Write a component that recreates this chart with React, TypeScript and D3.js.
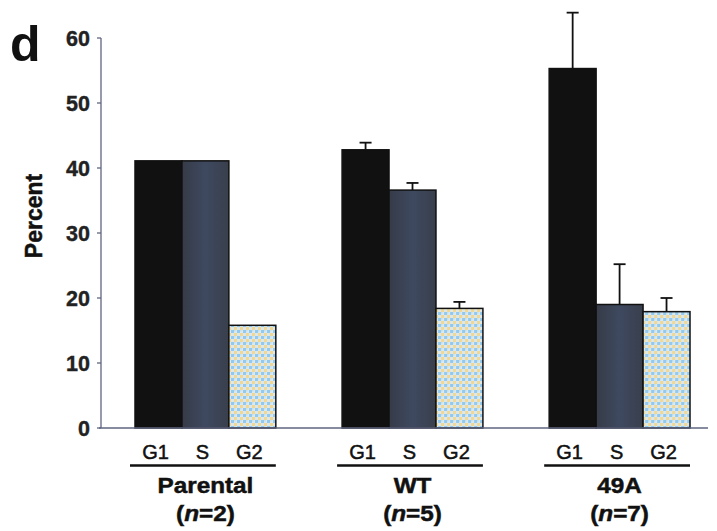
import React from "react";
import * as d3 from "d3";

const groups = ["Parental", "WT", "49A"];
const groupN = ["2", "5", "7"];
const phases = ["G1", "S", "G2"];
const g1Values = [41.1, 42.8, 55.3];
const sValues = [41.1, 36.6, 19.0];
const g2Values = [15.8, 18.4, 17.9];
const g1Err = [0, 1.1, 8.6];
const sErr = [0, 1.1, 6.2];
const g2Err = [0, 1.0, 2.1];
const yTicks = [0, 10, 20, 30, 40, 50, 60];

const W = 717;
const H = 531;

export default function App() {
  const y = d3.scaleLinear().domain([0, 60]).range([428, 38]);
  const x = d3.scaleBand<string>().domain(groups).range([135, 690]).paddingInner(0.32).paddingOuter(0);
  const xi = d3.scaleBand<string>().domain(phases).range([0, x.bandwidth()]).padding(0);
  const values = [g1Values, sValues, g2Values];
  const errs = [g1Err, sErr, g2Err];
  const fills = ["#111111", "url(#sstreak)", "url(#checker)"];
  const axisColor = "#5f6580";
  const font = "Liberation Sans, Arial, Helvetica, sans-serif";

  return (
    <svg width={W} height={H} style={{ position: "absolute", left: 0, top: 0, background: "#fff" }} fontFamily={font}>
      <defs>
        <pattern id="checker" width="6" height="6" patternUnits="userSpaceOnUse">
          <rect width="6" height="6" fill="#dde8ec" />
          <rect x="0" y="0" width="3" height="3" fill="#92c9ee" />
          <rect x="3" y="3" width="3" height="3" fill="#f0d892" />
          <rect x="3" y="0" width="1.5" height="1.5" fill="#c4dfee" />
        </pattern>
        <linearGradient id="sstreak" x1="0" x2="1" y1="0" y2="0">
          <stop offset="0" stopColor="#363b47" />
          <stop offset="0.5" stopColor="#3e4960" />
          <stop offset="1" stopColor="#393f4c" />
        </linearGradient>
      </defs>

      <text x={10} y={61} fontSize={50} fontWeight="bold" fill="#111">d</text>

      {/* y axis */}
      <line x1={101} x2={101} y1={y(60)} y2={y(0)} stroke={axisColor} strokeWidth={1.3} />
      {yTicks.map((t) => (
        <g key={t}>
          <line x1={97} x2={101} y1={y(t)} y2={y(t)} stroke={axisColor} strokeWidth={1.3} />
          <text x={90} y={y(t) + 7.5} textAnchor="end" fontSize={21.5} fontWeight="bold" fill="#222"
            stroke="#222" strokeWidth={0.4}>{t}</text>
        </g>
      ))}
      <text transform={`translate(42,216) rotate(-90)`} textAnchor="middle" fontSize={23} fontWeight="bold"
        fill="#111" stroke="#111" strokeWidth={0.5}>Percent</text>

      {/* bars */}
      {groups.map((g, gi) => (
        <g key={g} transform={`translate(${x(g)},0)`}>
          {phases.map((p, pi) => {
            const v = values[pi][gi];
            const e = errs[pi][gi];
            const bx = xi(p)!;
            const bw = xi.bandwidth();
            const cx = bx + bw / 2;
            return (
              <g key={p}>
                {e > 0 && (
                  <g stroke="#111" strokeWidth={1.8}>
                    <line x1={cx} x2={cx} y1={y(v)} y2={y(v + e)} />
                    <line x1={cx - 6} x2={cx + 6} y1={y(v + e)} y2={y(v + e)} />
                  </g>
                )}
                <rect x={bx} y={y(v)} width={bw} height={y(0) - y(v)}
                  fill={fills[pi]} stroke="#111" strokeWidth={1.5} />
              </g>
            );
          })}
          {phases.map((p) => (
            <text key={p} x={xi(p)! + xi.bandwidth() / 2 - 3} y={459} textAnchor="middle" fontSize={20}
              fill="#111" stroke="#111" strokeWidth={0.5}>{p}</text>
          ))}
          <line x1={-5} x2={x.bandwidth()} y1={465.5} y2={465.5} stroke="#111" strokeWidth={2.4} />
          <g transform={`translate(${x.bandwidth() / 2},0) scale(1.08,1)`}>
            <text x={0} y={493} textAnchor="middle" fontSize={22.5} fontWeight="bold" fill="#111"
              stroke="#111" strokeWidth={0.5}>{g}</text>
            <text x={0} y={521} textAnchor="middle" fontSize={22.5} fontWeight="bold" fill="#111"
              stroke="#111" strokeWidth={0.5}>
              (<tspan fontStyle="italic">n</tspan>={groupN[gi]})
            </text>
          </g>
        </g>
      ))}

      {/* x axis */}
      <line x1={99} x2={708} y1={y(0)} y2={y(0)} stroke={axisColor} strokeWidth={1.3} />
    </svg>
  );
}
